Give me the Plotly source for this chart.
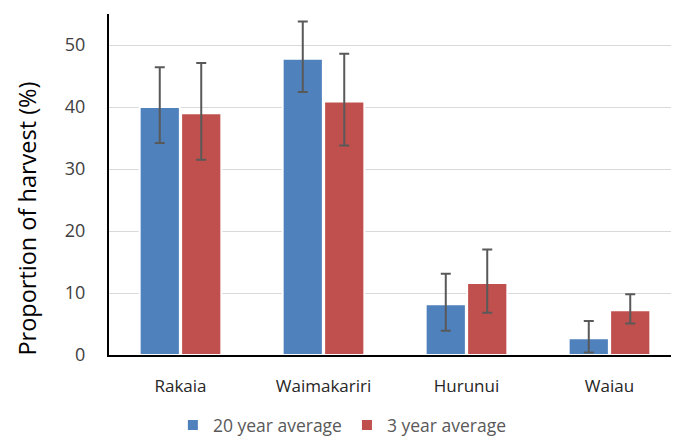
import plotly.graph_objects as go

categories = ["Rakaia", "Waimakariri", "Hurunui", "Waiau"]
avg20 = [40.0, 47.8, 8.2, 2.7]
avg20_plus = [6.4, 6.0, 4.9, 2.8]
avg20_minus = [5.8, 5.4, 4.3, 2.3]
avg3 = [39.0, 40.9, 11.6, 7.2]
avg3_plus = [8.1, 7.7, 5.4, 2.6]
avg3_minus = [7.5, 7.1, 4.8, 2.1]
yticks = [0, 10, 20, 30, 40, 50]
y_title = "Proportion of harvest (%)"

font = "Open Sans"
fig = go.Figure()
fig.add_bar(
    x=categories, y=avg20, name="20 year average",
    marker=dict(color="#4F81BD", line=dict(color="white", width=2)),
    error_y=dict(type="data", symmetric=False, array=avg20_plus, arrayminus=avg20_minus,
                 color="#595959", thickness=2, width=5),
)
fig.add_bar(
    x=categories, y=avg3, name="3 year average",
    marker=dict(color="#C0504D", line=dict(color="white", width=2)),
    error_y=dict(type="data", symmetric=False, array=avg3_plus, arrayminus=avg3_minus,
                 color="#595959", thickness=2, width=5),
)
fig.update_layout(
    width=679, height=441,
    margin=dict(l=101, r=6, t=6, b=86),
    plot_bgcolor="white", paper_bgcolor="white",
    barmode="group", bargap=0.42, bargroupgap=0.03,
    font=dict(family=font, color="#404040", size=15),
    legend=dict(orientation="h", x=0.408, xanchor="center", y=-0.206, yanchor="middle",
                font=dict(size=17.5, color="#595959"), itemwidth=30, traceorder="normal"),
    showlegend=True,
    annotations=[dict(text=y_title, xref="paper", yref="paper", x=-0.1276, y=0.40,
                      xshift=-9, xanchor="center", yanchor="middle", textangle=-90,
                      showarrow=False, font=dict(size=23.5, color="#000000"))],
)
fig.update_xaxes(
    showline=True, linecolor="black", linewidth=2,
    tickfont=dict(size=17, color="#262626"), ticks="", ticklabelstandoff=15,
)
fig.update_yaxes(
    range=[0, 55], tickvals=yticks, showline=True, linecolor="black", linewidth=2,
    showgrid=True, gridcolor="#d9d9d9", gridwidth=1,
    tickfont=dict(size=18, color="#404040"), ticks="", ticklabelstandoff=18,
    zeroline=False,
)
fig.write_html("out.html")
